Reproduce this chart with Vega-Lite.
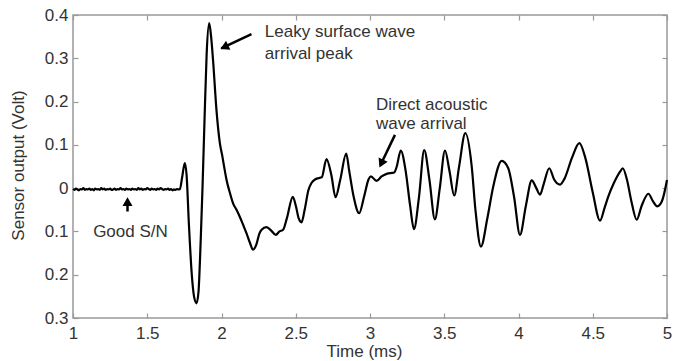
{
  "$schema": "https://vega.github.io/schema/vega-lite/v6.json",
  "width": 594,
  "height": 303,
  "autosize": {"type": "none"},
  "padding": {"left": 73, "top": 15, "right": 11, "bottom": 43},
  "background": "white",
  "config": {
    "font": "Liberation Sans",
    "view": {"stroke": "#999", "strokeWidth": 1.5},
    "axis": {
      "domain": false,
      "grid": false,
      "tickSize": -5,
      "tickColor": "#999",
      "tickWidth": 1.2,
      "labelFontSize": 17,
      "labelColor": "#333",
      "labelFlush": false,
      "labelOverlap": false,
      "titleFontSize": 17,
      "titleFontWeight": "normal",
      "titleColor": "#333"
    },
    "text": {"font": "Liberation Sans", "fontSize": 17, "fill": "#333"}
  },
  "datasets": {
    "wave": [
      {"t": 1.00, "v": -0.002}, {"t": 1.01, "v": -0.004}, {"t": 1.02, "v": -0.001}, {"t": 1.03, "v": -0.003}, {"t": 1.04, "v": -0.005},
      {"t": 1.05, "v": -0.002}, {"t": 1.06, "v": -0.003}, {"t": 1.07, "v": 0.000}, {"t": 1.08, "v": -0.004}, {"t": 1.09, "v": -0.002},
      {"t": 1.10, "v": -0.003}, {"t": 1.11, "v": -0.001}, {"t": 1.12, "v": -0.004}, {"t": 1.13, "v": -0.002}, {"t": 1.14, "v": -0.005},
      {"t": 1.15, "v": -0.001}, {"t": 1.16, "v": -0.003}, {"t": 1.17, "v": -0.002}, {"t": 1.18, "v": -0.004}, {"t": 1.19, "v": 0.000},
      {"t": 1.20, "v": -0.003}, {"t": 1.21, "v": -0.001}, {"t": 1.22, "v": -0.004}, {"t": 1.23, "v": -0.002}, {"t": 1.24, "v": -0.003},
      {"t": 1.25, "v": -0.001}, {"t": 1.26, "v": -0.004}, {"t": 1.27, "v": -0.003}, {"t": 1.28, "v": -0.001}, {"t": 1.29, "v": -0.004},
      {"t": 1.30, "v": -0.002}, {"t": 1.31, "v": -0.003}, {"t": 1.32, "v": 0.000}, {"t": 1.33, "v": -0.003}, {"t": 1.34, "v": -0.002},
      {"t": 1.35, "v": -0.004}, {"t": 1.36, "v": -0.001}, {"t": 1.37, "v": -0.003}, {"t": 1.38, "v": -0.002}, {"t": 1.39, "v": -0.004},
      {"t": 1.40, "v": -0.001}, {"t": 1.41, "v": -0.003}, {"t": 1.42, "v": -0.002}, {"t": 1.43, "v": -0.004}, {"t": 1.44, "v": 0.000},
      {"t": 1.45, "v": -0.003}, {"t": 1.46, "v": -0.001}, {"t": 1.47, "v": -0.004}, {"t": 1.48, "v": -0.002}, {"t": 1.49, "v": -0.003},
      {"t": 1.50, "v": 0.000}, {"t": 1.51, "v": -0.002}, {"t": 1.52, "v": -0.004}, {"t": 1.53, "v": -0.001}, {"t": 1.54, "v": -0.003},
      {"t": 1.55, "v": -0.002}, {"t": 1.56, "v": -0.004}, {"t": 1.57, "v": -0.001}, {"t": 1.58, "v": -0.003}, {"t": 1.59, "v": 0.000},
      {"t": 1.60, "v": -0.002}, {"t": 1.61, "v": -0.004}, {"t": 1.62, "v": -0.002}, {"t": 1.63, "v": -0.003}, {"t": 1.64, "v": -0.001},
      {"t": 1.65, "v": -0.004}, {"t": 1.66, "v": -0.002}, {"t": 1.67, "v": -0.005}, {"t": 1.68, "v": -0.003}, {"t": 1.69, "v": -0.004},
      {"t": 1.70, "v": -0.002}, {"t": 1.71, "v": -0.003},
      {"t": 1.72, "v": -0.002}, {"t": 1.735, "v": 0.025}, {"t": 1.753, "v": 0.058}, {"t": 1.765, "v": 0.03},
      {"t": 1.78, "v": -0.08}, {"t": 1.80, "v": -0.2}, {"t": 1.815, "v": -0.25}, {"t": 1.832, "v": -0.266},
      {"t": 1.845, "v": -0.24}, {"t": 1.86, "v": -0.12}, {"t": 1.872, "v": 0.0}, {"t": 1.885, "v": 0.15},
      {"t": 1.90, "v": 0.31}, {"t": 1.917, "v": 0.381}, {"t": 1.93, "v": 0.35}, {"t": 1.943, "v": 0.296},
      {"t": 1.966, "v": 0.181}, {"t": 1.989, "v": 0.104}, {"t": 2.005, "v": 0.075}, {"t": 2.02, "v": 0.045},
      {"t": 2.034, "v": 0.019}, {"t": 2.056, "v": -0.01}, {"t": 2.078, "v": -0.035}, {"t": 2.101, "v": -0.05},
      {"t": 2.123, "v": -0.066}, {"t": 2.146, "v": -0.085}, {"t": 2.168, "v": -0.104}, {"t": 2.19, "v": -0.125},
      {"t": 2.213, "v": -0.142}, {"t": 2.235, "v": -0.13}, {"t": 2.255, "v": -0.105}, {"t": 2.27, "v": -0.096},
      {"t": 2.303, "v": -0.09}, {"t": 2.335, "v": -0.098}, {"t": 2.366, "v": -0.108}, {"t": 2.39, "v": -0.1},
      {"t": 2.415, "v": -0.096}, {"t": 2.44, "v": -0.07}, {"t": 2.48, "v": -0.02}, {"t": 2.50, "v": -0.04},
      {"t": 2.52, "v": -0.07}, {"t": 2.539, "v": -0.079}, {"t": 2.56, "v": -0.05}, {"t": 2.585, "v": -0.005},
      {"t": 2.606, "v": 0.012}, {"t": 2.63, "v": 0.02}, {"t": 2.651, "v": 0.023}, {"t": 2.675, "v": 0.025},
      {"t": 2.707, "v": 0.067}, {"t": 2.74, "v": 0.03}, {"t": 2.768, "v": -0.021}, {"t": 2.80, "v": 0.02},
      {"t": 2.84, "v": 0.08}, {"t": 2.86, "v": 0.04}, {"t": 2.89, "v": -0.02}, {"t": 2.927, "v": -0.058},
      {"t": 2.96, "v": -0.02}, {"t": 2.99, "v": 0.02}, {"t": 3.006, "v": 0.027}, {"t": 3.044, "v": 0.017},
      {"t": 3.078, "v": 0.027}, {"t": 3.112, "v": 0.033}, {"t": 3.163, "v": 0.036}, {"t": 3.18, "v": 0.05},
      {"t": 3.207, "v": 0.087}, {"t": 3.24, "v": 0.04}, {"t": 3.27, "v": -0.04}, {"t": 3.296, "v": -0.095},
      {"t": 3.33, "v": -0.02}, {"t": 3.365, "v": 0.088}, {"t": 3.40, "v": 0.02}, {"t": 3.437, "v": -0.072},
      {"t": 3.47, "v": 0.0}, {"t": 3.505, "v": 0.087}, {"t": 3.535, "v": 0.04}, {"t": 3.567, "v": -0.017},
      {"t": 3.60, "v": 0.05}, {"t": 3.642, "v": 0.127}, {"t": 3.685, "v": 0.05}, {"t": 3.71, "v": -0.05},
      {"t": 3.747, "v": -0.135}, {"t": 3.79, "v": -0.07}, {"t": 3.83, "v": 0.004}, {"t": 3.887, "v": 0.063},
      {"t": 3.931, "v": 0.046}, {"t": 3.97, "v": -0.02}, {"t": 4.01, "v": -0.108}, {"t": 4.05, "v": -0.04},
      {"t": 4.089, "v": 0.018}, {"t": 4.12, "v": 0.0}, {"t": 4.145, "v": -0.015}, {"t": 4.17, "v": 0.01},
      {"t": 4.207, "v": 0.046}, {"t": 4.24, "v": 0.02}, {"t": 4.28, "v": 0.008}, {"t": 4.31, "v": 0.022},
      {"t": 4.36, "v": 0.07}, {"t": 4.41, "v": 0.104}, {"t": 4.45, "v": 0.07}, {"t": 4.50, "v": -0.01},
      {"t": 4.549, "v": -0.075}, {"t": 4.58, "v": -0.045}, {"t": 4.605, "v": -0.019}, {"t": 4.64, "v": 0.01},
      {"t": 4.684, "v": 0.038}, {"t": 4.702, "v": 0.046}, {"t": 4.73, "v": 0.02}, {"t": 4.76, "v": -0.03},
      {"t": 4.796, "v": -0.073}, {"t": 4.83, "v": -0.04}, {"t": 4.875, "v": -0.013}, {"t": 4.905, "v": -0.03},
      {"t": 4.935, "v": -0.042}, {"t": 4.965, "v": -0.031}, {"t": 5.0, "v": 0.019}
    ],
    "notes": [
      {"t": 2.292, "v": 0.360, "label": "Leaky surface wave", "anchor": "left"},
      {"t": 2.292, "v": 0.311, "label": "arrival peak", "anchor": "left"},
      {"t": 3.040, "v": 0.192, "label": "Direct acoustic", "anchor": "left"},
      {"t": 3.040, "v": 0.148, "label": "wave arrival", "anchor": "left"},
      {"t": 1.387, "v": -0.102, "label": "Good S/N", "anchor": "center"}
    ],
    "arrows": [
      {"name": "leaky", "t": 2.202, "v": 0.356, "t2": 1.998, "v2": 0.323},
      {"name": "direct", "t": 3.168, "v": 0.123, "t2": 3.070, "v2": 0.053},
      {"name": "good", "t": 1.367, "v": -0.054, "t2": 1.367, "v2": -0.027}
    ],
    "heads": [
      {"name": "leaky", "t": 2.019, "v": 0.326},
      {"name": "direct", "t": 3.076, "v": 0.057},
      {"name": "good", "t": 1.367, "v": -0.031}
    ]
  },
  "layer": [
    {
      "data": {"name": "wave"},
      "mark": {"type": "line", "color": "#000", "strokeWidth": 2.2, "interpolate": "monotone"},
      "encoding": {
        "x": {
          "field": "t", "type": "quantitative",
          "scale": {"domain": [1, 5], "nice": false, "zero": false},
          "axis": {
            "orient": "bottom",
            "values": [1, 1.5, 2, 2.5, 3, 3.5, 4, 4.5, 5],
            "labelExpr": "format(datum.value, '~g')",
            "labelPadding": 12,
            "title": "Time (ms)",
            "titleX": 291,
            "titleY": 33.5,
            "titleBaseline": "middle"
          }
        },
        "y": {
          "field": "v", "type": "quantitative",
          "scale": {"domain": [-0.3, 0.4], "nice": false, "zero": false},
          "axis": {
            "orient": "left",
            "values": [-0.3, -0.2, -0.1, 0, 0.1, 0.2, 0.3, 0.4],
            "labelExpr": "datum.value == 0 ? '0' : format(abs(datum.value), '.1f')",
            "labelPadding": 10,
            "title": "Sensor output (Volt)",
            "titleX": -55,
            "titleY": 150,
            "titleBaseline": "middle",
            "titleAngle": -90
          }
        }
      }
    },
    {
      "data": {"name": "arrows"},
      "mark": {"type": "rule", "color": "#000", "strokeWidth": 2.5},
      "encoding": {
        "x": {
          "field": "t", "type": "quantitative",
          "scale": {"domain": [1, 5], "nice": false, "zero": false},
          "axis": {"orient": "top", "values": [1, 1.5, 2, 2.5, 3, 3.5, 4, 4.5, 5], "labels": false, "title": null}
        },
        "y": {
          "field": "v", "type": "quantitative",
          "scale": {"domain": [-0.3, 0.4], "nice": false, "zero": false},
          "axis": {"orient": "right", "values": [-0.3, -0.2, -0.1, 0, 0.1, 0.2, 0.3, 0.4], "labels": false, "title": null}
        },
        "x2": {"field": "t2"},
        "y2": {"field": "v2"}
      }
    },
    {
      "data": {"name": "heads"},
      "transform": [{"filter": "datum.name == 'leaky'"}],
      "mark": {"type": "point", "shape": "triangle-up", "filled": true, "color": "#000", "opacity": 1, "size": 100, "angle": 244},
      "encoding": {
        "x": {"field": "t", "type": "quantitative", "axis": null},
        "y": {"field": "v", "type": "quantitative", "axis": null}
      }
    },
    {
      "data": {"name": "heads"},
      "transform": [{"filter": "datum.name == 'direct'"}],
      "mark": {"type": "point", "shape": "triangle-up", "filled": true, "color": "#000", "opacity": 1, "size": 100, "angle": 205},
      "encoding": {
        "x": {"field": "t", "type": "quantitative", "axis": null},
        "y": {"field": "v", "type": "quantitative", "axis": null}
      }
    },
    {
      "data": {"name": "heads"},
      "transform": [{"filter": "datum.name == 'good'"}],
      "mark": {"type": "point", "shape": "triangle-up", "filled": true, "color": "#000", "opacity": 1, "size": 100, "angle": 0},
      "encoding": {
        "x": {"field": "t", "type": "quantitative", "axis": null},
        "y": {"field": "v", "type": "quantitative", "axis": null}
      }
    },
    {
      "data": {"name": "notes"},
      "transform": [{"filter": "datum.anchor == 'left'"}],
      "mark": {"type": "text", "align": "left", "baseline": "middle"},
      "encoding": {
        "x": {"field": "t", "type": "quantitative", "axis": null},
        "y": {"field": "v", "type": "quantitative", "axis": null},
        "text": {"field": "label"}
      }
    },
    {
      "data": {"name": "notes"},
      "transform": [{"filter": "datum.anchor == 'center'"}],
      "mark": {"type": "text", "align": "center", "baseline": "middle"},
      "encoding": {
        "x": {"field": "t", "type": "quantitative", "axis": null},
        "y": {"field": "v", "type": "quantitative", "axis": null},
        "text": {"field": "label"}
      }
    }
  ]
}
